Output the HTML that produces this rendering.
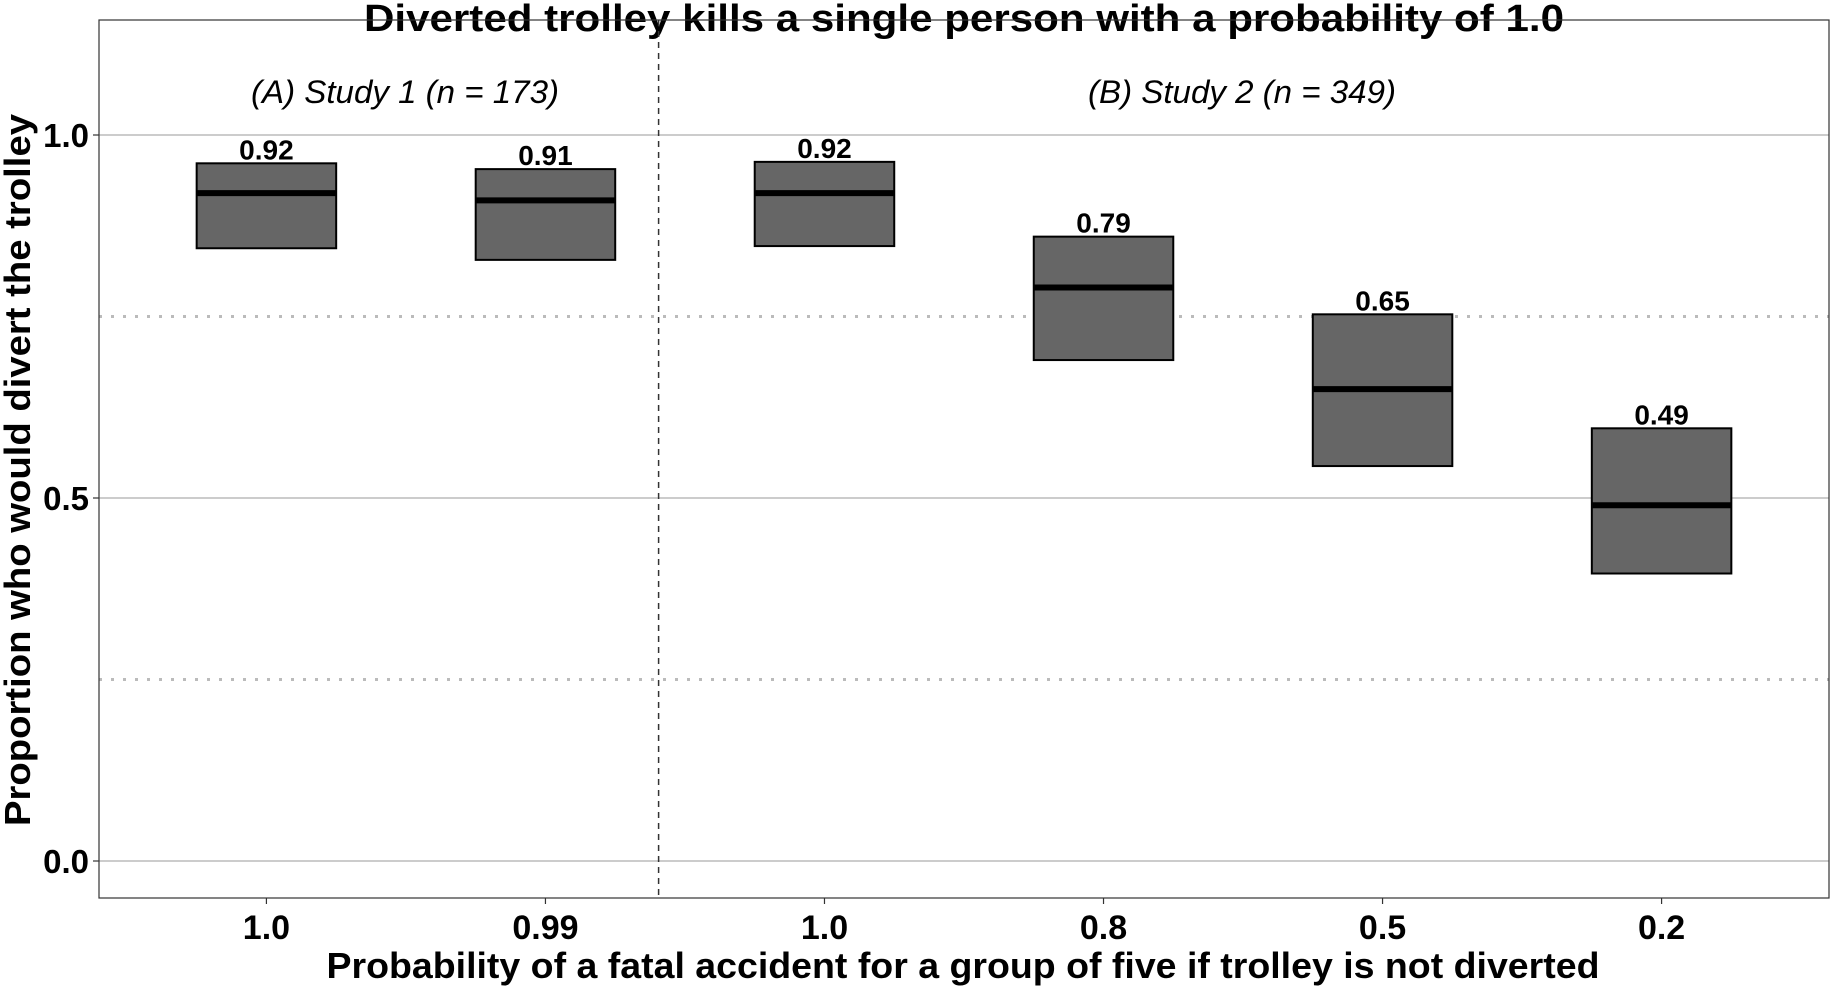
<!DOCTYPE html>
<html><head><meta charset="utf-8"><style>
html,body{margin:0;padding:0;background:#fff;}
svg{display:block;font-family:"Liberation Sans",Arial,sans-serif;}
</style></head><body>
<svg id="chart" width="1831" height="987" viewBox="0 0 1831 987">
<text x="964" y="31" text-anchor="middle" font-size="38" font-weight="bold" textLength="1200" lengthAdjust="spacingAndGlyphs">Diverted trolley kills a single person with a probability of 1.0</text>
<g id="grid"></g>
<rect x="99" y="20" width="1730" height="878" fill="none" stroke="#333" stroke-width="1.2"/>
<line x1="658.6" y1="20" x2="658.6" y2="898" stroke="#333" stroke-width="1.5" stroke-dasharray="6,5"/>
<text x="405" y="103" text-anchor="middle" font-size="32" font-style="italic" textLength="308" lengthAdjust="spacingAndGlyphs">(A) Study 1 (n = 173)</text>
<text x="1242" y="103" text-anchor="middle" font-size="32" font-style="italic" textLength="308" lengthAdjust="spacingAndGlyphs">(B) Study 2 (n = 349)</text>
<g id="marks"></g>
<text x="963" y="978" text-anchor="middle" font-size="36" font-weight="bold" textLength="1273" lengthAdjust="spacingAndGlyphs">Probability of a fatal accident for a group of five if trolley is not diverted</text>
<text transform="translate(30,470) rotate(-90)" text-anchor="middle" font-size="36" font-weight="bold" textLength="712" lengthAdjust="spacingAndGlyphs">Proportion who would divert the trolley</text>
</svg>
<script>
const categories = ["1.0","0.99","1.0","0.8","0.5","0.2"];
const means = [0.92,0.91,0.92,0.79,0.65,0.49];
const lows = [0.844,0.828,0.847,0.690,0.544,0.396];
const highs = [0.961,0.953,0.963,0.860,0.753,0.596];
const meanLabels = ["0.92","0.91","0.92","0.79","0.65","0.49"];
const yTicks = [0.0,0.5,1.0];
const yTickLabels = ["0.0","0.5","1.0"];
const yMinor = [0.25,0.75];

const NS="http://www.w3.org/2000/svg";
const left=99,right=1829,step=(right-left)/6.2;
const xScale=i=>left+(0.6+i)*step;
const yScale=v=>861-v*726;
function mk(tag,attrs,parent){const e=document.createElementNS(NS,tag);for(const k in attrs)e.setAttribute(k,attrs[k]);parent.appendChild(e);return e;}
const grid=document.getElementById('grid'),marks=document.getElementById('marks'),svg=document.getElementById('chart');
yTicks.forEach((v,i)=>{
  const l=mk('line',{x1:left,x2:right,y1:yScale(v),y2:yScale(v),stroke:'#bbb','stroke-width':1.6},grid);
  
  
  const t=mk('line',{x1:left-6,x2:left,y1:yScale(v),y2:yScale(v),stroke:'#333','stroke-width':1.2},grid);
  
  
  const tx=mk('text',{x:left-10,y:yScale(v)+12,'text-anchor':'end','font-size':33,'font-weight':'bold'},svg);
  tx.textContent=yTickLabels[i];
  
  
});
yMinor.forEach(v=>{
  const l=mk('line',{x1:left,x2:right,y1:yScale(v),y2:yScale(v),stroke:'#bbb','stroke-width':3,'stroke-dasharray':'3,9'},grid);
  
  
});
const bw=step*0.5;
categories.forEach((c,i)=>{
  const cx=xScale(i);
  const r=mk('rect',{x:cx-bw/2,y:yScale(highs[i]),width:bw,height:yScale(lows[i])-yScale(highs[i]),fill:'#666',stroke:'#000','stroke-width':2},marks);
  
  
  const m=mk('line',{x1:cx-bw/2,x2:cx+bw/2,y1:yScale(means[i]),y2:yScale(means[i]),stroke:'#000','stroke-width':6},marks);
  
  
  const lb=mk('text',{x:cx,y:yScale(highs[i])-4,'text-anchor':'middle','font-size':28,'font-weight':'bold'},marks);
  lb.textContent=meanLabels[i];
  
  
  const t=mk('line',{x1:cx,x2:cx,y1:898,y2:904,stroke:'#333','stroke-width':1.2},marks);
  
  
  const tx=mk('text',{x:cx,y:939,'text-anchor':'middle','font-size':34,'font-weight':'bold'},svg);
  tx.textContent=c;
  
  
});
</script>
</body></html>
